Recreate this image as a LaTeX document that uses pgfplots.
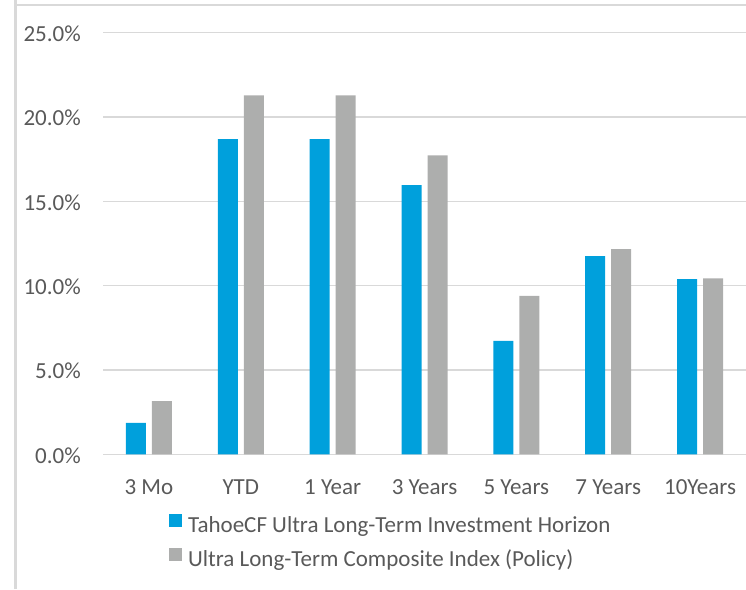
\documentclass[border=0pt]{standalone}
\usepackage{fontspec}
\setmainfont{Carlito}
\usepackage{pgfplots}
\pgfplotsset{compat=1.18}

\definecolor{barblue}{RGB}{0,160,220}
\definecolor{bargray}{RGB}{173,174,173}
\definecolor{txtgray}{RGB}{89,89,89}
\definecolor{gridgray}{RGB}{217,217,217}

\begin{document}
\begin{tikzpicture}
  \useasboundingbox (0pt,0pt) rectangle (746pt,589pt);
  % chart frame, cut off at the left and top
  \draw[gridgray, line width=2.5pt] (15.5pt,0pt) -- (15.5pt,589pt);
  \draw[gridgray, line width=1.6pt] (17pt,584pt) -- (746pt,584pt);
  \begin{axis}[
      at={(103pt,134.7pt)}, anchor=south west,
      scale only axis, width=643pt, height=421.6pt,
      ybar=6pt, bar width=20pt,
      xmin=-0.5, xmax=6.5, ymin=0, ymax=25,
      xtick=data,
      xticklabels={3 Mo, YTD, 1 Year, 3 Years, 5 Years, 7 Years, 10Years},
      ytick={0,5,...,25},
      yticklabel={\pgfmathprintnumber[fixed, fixed zerofill, precision=1, assume math mode=true]{\tick}\%},
      axis line style={draw=none},
      major tick length=0pt,
      ymajorgrids, grid style={gridgray, line width=1.6pt},
      ticklabel style={font=\fontsize{23}{27}\selectfont, text=txtgray},
      xticklabel style={anchor=base, yshift=-40pt},
      yticklabel style={anchor=base east, inner sep=0pt, xshift=-22pt, yshift=-8.7pt},
      legend style={draw=none, fill=none, inner sep=0pt,
        at={(rel axis cs:0.1026,-0.140)}, anchor=north west,
        font=\fontsize{23}{27}\selectfont, text=txtgray,
        nodes={inner sep=0pt, text height=16pt, text depth=5pt},
        row sep=11pt,
        /tikz/every odd column/.append style={column sep=6pt}},
      legend cell align=left,
      legend image code/.code={\fill[#1] (0pt,0pt) rectangle (13pt,13pt);},
    ]
    \addplot[fill=barblue, draw=none] coordinates {
      (0,1.87) (1,18.69) (2,18.69) (3,15.96) (4,6.72) (5,11.75) (6,10.39)};
    \addplot[fill=bargray, draw=none] coordinates {
      (0,3.16) (1,21.28) (2,21.28) (3,17.72) (4,9.39) (5,12.17) (6,10.43)};
    \legend{TahoeCF Ultra Long-Term Investment Horizon, Ultra Long-Term Composite Index (Policy)}
  \end{axis}
\end{tikzpicture}
\end{document}
